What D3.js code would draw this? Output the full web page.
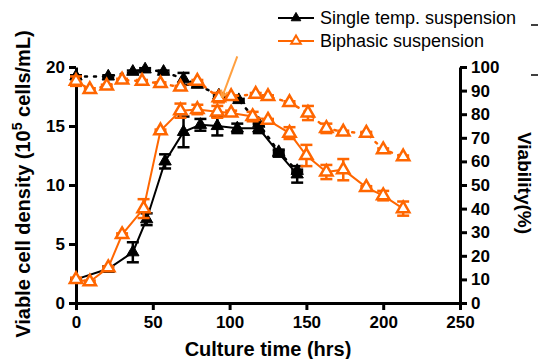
<!DOCTYPE html>
<html>
	<head>
		<meta http-equiv="Content-Type" content="text/html;charset=utf-8"/>
		<title>Cell density and viability</title>
		<script src="https://d3js.org/d3.v7.min.js"></script>
		<style type="text/css">
			body { margin: 0; background: #fff; }
			text { font-family: Arial, "Liberation Sans", sans-serif; }
			.tick text { font-size: 17px; font-weight: bold; }
			.axis path, .axis line { stroke: #000; stroke-width: 3; }
		</style>
	</head>
	<body>
		<script type="text/javascript">

			//Single temperature suspension
			var singleTime = [0, 21, 37, 46, 58, 70, 81, 92, 105, 119, 132, 144];
			var singleDensity = [2.0, 2.9, 4.3, 7.1, 12.0, 14.5, 15.1, 15.0, 14.8, 14.8, 12.7, 10.9];
			var singleDensityErr = [0.1, 0.2, 0.85, 0.5, 0.6, 1.3, 0.5, 0.8, 0.4, 0.4, 0.3, 0.7];
			var singleViabTime = [0, 21, 37, 45, 57, 70, 79, 93, 106, 119, 132, 144];
			var singleViability = [96, 96, 98, 99, 98, 95, 92.5, 88, 86, 76, 64, 56];
			var singleViabErr = [0.5, 0.5, 0.5, 0.5, 0.5, 2.5, 0.5, 0.5, 0.5, 0.5, 0.5, 0.5];

			//Biphasic suspension
			var biTime = [0, 9, 21, 30, 44, 55, 68, 79, 92, 101, 115, 125, 139, 150, 163, 174, 189, 200, 213];
			var biDensity = [2.0, 1.8, 3.0, 5.8, 8.0, 14.6, 16.3, 16.4, 16.2, 16.1, 15.8, 15.5, 14.4, 12.5, 11.1, 11.3, 9.8, 9.1, 8.0];
			var biDensityErr = [0.15, 0.1, 0.1, 0.1, 0.8, 0.1, 0.6, 0.4, 0.5, 0.2, 0.4, 0.1, 0.5, 0.9, 0.6, 0.9, 0.1, 0.4, 0.6];
			var biViabTime = [0, 9, 20, 30, 43, 55, 68, 79, 93, 101, 117, 125, 139, 151, 163, 174, 189, 200, 213];
			var biViability = [94, 90.5, 92, 94.5, 94, 93, 91.5, 94, 87, 87.5, 88.5, 87.5, 85, 80.5, 74, 72.5, 72, 65, 62];
			var biViabErr = [2, 0.5, 0.5, 0.5, 0.5, 0.5, 0.5, 0.5, 2, 0.5, 0.5, 0.5, 0.5, 3, 2, 0.5, 0.5, 0.5, 0.5];

			var xTicks = [0, 50, 100, 150, 200, 250];
			var leftTicks = [0, 5, 10, 15, 20];
			var rightTicks = [0, 10, 20, 30, 40, 50, 60, 70, 80, 90, 100];
			var seriesNames = ["Single temp. suspension", "Biphasic suspension"];

			//Arrow annotation (time, density units)
			var arrowFrom = [105, 20.9], arrowTo = [95, 17.4];

			var w = 538, h = 359;
			var black = "#000", orange = "#ff6600";

			var x = d3.scaleLinear().domain([0, 250]).range([76, 460]);
			var yL = d3.scaleLinear().domain([0, 20]).range([303, 67]);
			var yR = d3.scaleLinear().domain([0, 100]).range([303, 67]);

			var svg = d3.select("body").append("svg")
						.attr("width", w)
						.attr("height", h);

			//Axes
			svg.append("g").attr("class", "axis")
				.attr("transform", "translate(0,303)")
				.call(d3.axisBottom(x).tickValues(xTicks).tickSize(7).tickSizeOuter(0).tickPadding(6));
			svg.append("g").attr("class", "axis")
				.attr("transform", "translate(76,0)")
				.call(d3.axisLeft(yL).tickValues(leftTicks).tickSize(7).tickSizeOuter(0).tickPadding(4));
			svg.append("g").attr("class", "axis")
				.attr("transform", "translate(460,0)")
				.call(d3.axisRight(yR).tickValues(rightTicks).tickSize(7).tickSizeOuter(0).tickPadding(4));
			svg.selectAll(".tick text").attr("fill", "#000");

			//Axis titles
			svg.append("text")
				.attr("x", 268).attr("y", 356)
				.attr("text-anchor", "middle")
				.style("font-size", "20px").style("font-weight", "bold")
				.text("Culture time (hrs)");

			var ylab = svg.append("text")
				.attr("transform", "translate(30,184) rotate(-90)")
				.attr("text-anchor", "middle")
				.style("font-size", "20px").style("font-weight", "bold");
			ylab.append("tspan").text("Viable cell density (10");
			ylab.append("tspan").attr("dy", -8).style("font-size", "14px").text("5");
			ylab.append("tspan").attr("dy", 8).text(" cells/mL)");

			svg.append("text")
				.attr("transform", "translate(518,183) rotate(90)")
				.attr("text-anchor", "middle")
				.style("font-size", "19px").style("font-weight", "bold")
				.text("Viability(%)");

			var tri = d3.symbol().type(d3.symbolTriangle).size(66);

			function zip(t, v, e) {
				return t.map(function(d, i) { return { t: d, v: v[i], e: e[i] }; });
			}

			function drawSeries(data, y, color, filled, dotted) {
				var line = d3.line()
					.x(function(d) { return x(d.t); })
					.y(function(d) { return y(d.v); });

				svg.append("path")
					.datum(data)
					.attr("fill", "none")
					.attr("stroke", color)
					.attr("stroke-width", dotted ? 2.5 : 2)
					.attr("stroke-dasharray", dotted ? "2,7" : null)
					.attr("stroke-linecap", dotted ? "round" : "butt")
					.attr("d", line);

				var eb = svg.append("g");
				data.forEach(function(d) {
					var y1 = y(d.v + d.e), y2 = y(d.v - d.e), cx = x(d.t);
					eb.append("line").attr("x1", cx).attr("x2", cx).attr("y1", y1).attr("y2", y2)
						.attr("stroke", color).attr("stroke-width", 2.5);
					eb.append("line").attr("x1", cx - 6).attr("x2", cx + 6).attr("y1", y1).attr("y2", y1)
						.attr("stroke", color).attr("stroke-width", 2.5);
					eb.append("line").attr("x1", cx - 6).attr("x2", cx + 6).attr("y1", y2).attr("y2", y2)
						.attr("stroke", color).attr("stroke-width", 2.5);
				});

				svg.append("g").selectAll("path")
					.data(data)
					.enter()
					.append("path")
					.attr("d", tri)
					.attr("transform", function(d) { return "translate(" + x(d.t) + "," + y(d.v) + ")"; })
					.attr("fill", filled ? color : "#fff")
					.attr("stroke", color)
					.attr("stroke-width", filled ? 1 : 2.5);
			}

			drawSeries(zip(singleViabTime, singleViability, singleViabErr), yR, black, true, true);
			drawSeries(zip(biViabTime, biViability, biViabErr), yR, orange, false, true);
			drawSeries(zip(singleTime, singleDensity, singleDensityErr), yL, black, true, false);
			drawSeries(zip(biTime, biDensity, biDensityErr), yL, orange, false, false);

			//Arrow
			var ax1 = x(arrowFrom[0]), ay1 = yL(arrowFrom[1]), ax2 = x(arrowTo[0]), ay2 = yL(arrowTo[1]);
			var ang = Math.atan2(ay2 - ay1, ax2 - ax1);
			svg.append("line")
				.attr("x1", ax1).attr("y1", ay1).attr("x2", ax2).attr("y2", ay2)
				.attr("stroke", "#ffa040").attr("stroke-width", 2);
			svg.append("path")
				.attr("d", "M" + ax2 + "," + ay2 +
					"L" + (ax2 - 8 * Math.cos(ang - 0.45)) + "," + (ay2 - 8 * Math.sin(ang - 0.45)) +
					"M" + ax2 + "," + ay2 +
					"L" + (ax2 - 8 * Math.cos(ang + 0.45)) + "," + (ay2 - 8 * Math.sin(ang + 0.45)))
				.attr("stroke", "#ffa040").attr("stroke-width", 2).attr("fill", "none");

			//Legend
			var legend = svg.append("g").selectAll("g")
				.data(seriesNames)
				.enter().append("g")
				.attr("transform", function(d, i) { return "translate(278," + (18 + i * 23) + ")"; });
			legend.append("line")
				.attr("x1", 0).attr("x2", 36)
				.attr("stroke", function(d, i) { return i ? orange : black; })
				.attr("stroke-width", 2);
			legend.append("path")
				.attr("d", d3.symbol().type(d3.symbolTriangle).size(40))
				.attr("transform", "translate(18,0)")
				.attr("fill", function(d, i) { return i ? "#fff" : black; })
				.attr("stroke", function(d, i) { return i ? orange : black; })
				.attr("stroke-width", function(d, i) { return i ? 2 : 1; });
			legend.append("text")
				.attr("x", 42).attr("y", 6)
				.style("font-size", "18px")
				.text(function(d) { return d; });

			//stray marks at the right edge
			[25, 75].forEach(function(yy) {
				svg.append("line").attr("x1", 531).attr("x2", 538).attr("y1", yy).attr("y2", yy)
					.attr("stroke", "#000").attr("stroke-width", 1.5);
			});

		</script>
	</body>
</html>
